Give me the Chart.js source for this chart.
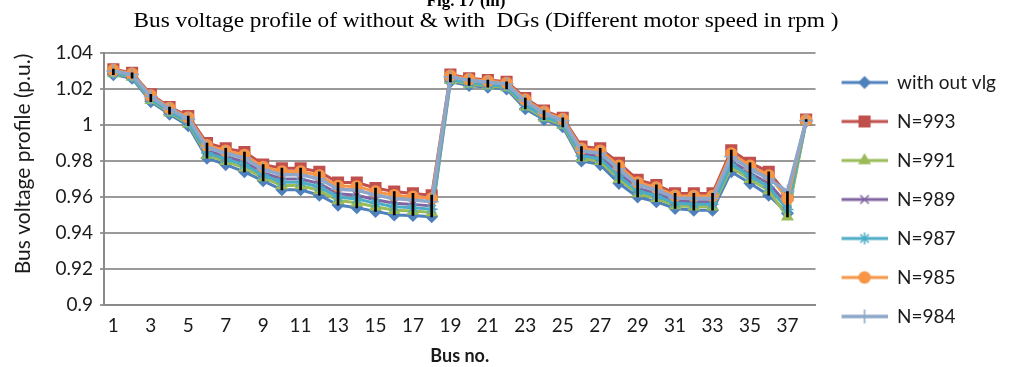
<!DOCTYPE html>
<html>
<head>
<meta charset="utf-8">
<script src="https://cdn.jsdelivr.net/npm/chart.js@4/dist/chart.umd.min.js"></script>
<style>
  html, body { margin: 0; padding: 0; background: #ffffff; }
  #wrap { width: 1015px; height: 367px; }
</style>
</head>
<body>
<div id="wrap"><canvas id="chart" width="1015" height="367"></canvas></div>
<script>
// Bus numbers 1..38
const buses = ['1','2','3','4','5','6','7','8','9','10','11','12','13','14','15','16','17','18','19',
               '20','21','22','23','24','25','26','27','28','29','30','31','32','33','34','35','36','37','38'];

// Bus voltages (p.u.) for each case
const withoutVlg = [1.028,1.026,1.013,1.006,0.9996,0.9816,0.978,0.974,0.969,0.964,0.964,0.961,0.9555,0.954,0.952,0.950,0.9497,0.949,
                    1.024,1.022,1.021,1.020,1.009,1.003,0.999,0.980,0.978,0.9676,0.960,0.9574,0.9536,0.9527,0.9527,0.974,0.9676,0.961,0.951,1.002];
const n993 = [1.031,1.029,1.017,1.010,1.005,0.990,0.987,0.985,0.978,0.976,0.976,0.974,0.968,0.968,0.965,0.963,0.962,0.961,
              1.028,1.026,1.025,1.024,1.015,1.008,1.004,0.988,0.987,0.979,0.9695,0.9667,0.962,0.962,0.962,0.986,0.979,0.974,0.961,1.003];
const n991 = [1.0286,1.0266,1.0138,1.0068,1.0007,0.9833,0.9798,0.9762,0.9708,0.9664,0.9664,0.9636,0.958,0.9568,0.9546,0.9526,0.9522,0.9514,
              1.0248,1.0228,1.0218,1.0208,1.0102,1.004,1.000,0.9816,0.9798,0.9699,0.9619,0.9593,0.9553,0.9546,0.9546,0.9764,0.9699,0.9636,0.949,1.002];
const n989 = [1.0295,1.0275,1.015,1.008,1.0023,0.9858,0.9825,0.9795,0.9735,0.970,0.970,0.9675,0.9618,0.961,0.9585,0.9565,0.9559,0.955,
              1.026,1.024,1.023,1.022,1.012,1.0055,1.0015,0.984,0.9825,0.9733,0.9648,0.9621,0.9578,0.9574,0.9574,0.980,0.9733,0.9675,0.956,1.0023];
const n987 = [1.029,1.027,1.0144,1.0074,1.0015,0.9845,0.9812,0.9779,0.9722,0.9682,0.9682,0.9656,0.9599,0.9589,0.9566,0.9546,0.954,0.9532,
              1.0254,1.0234,1.0224,1.0214,1.0111,1.0048,1.0008,0.9828,0.9812,0.9716,0.9633,0.9607,0.9565,0.956,0.956,0.9782,0.9716,0.9656,0.953,1.0022];
const n985 = [1.0305,1.0285,1.0164,1.0094,1.0042,0.9887,0.9857,0.9834,0.9767,0.9742,0.9742,0.972,0.9661,0.9659,0.963,0.961,0.9602,0.9592,
              1.0274,1.0254,1.0244,1.0234,1.0141,1.0073,1.0033,0.9868,0.9857,0.9773,0.9681,0.9653,0.9607,0.9606,0.9606,0.9842,0.9773,0.972,0.959,1.0027];
const n984 = [1.030,1.028,1.0158,1.0088,1.0034,0.9875,0.9843,0.9817,0.9753,0.9724,0.9724,0.9701,0.9643,0.9638,0.9611,0.9591,0.9583,0.9574,
              1.0268,1.0248,1.0238,1.0228,1.0132,1.0065,1.0025,0.9856,0.9843,0.9756,0.9667,0.9639,0.9595,0.9592,0.9592,0.9824,0.9756,0.9701,0.963,1.0025];

const seriesNames = ['with out vlg','N=993','N=991','N=989','N=987','N=985','N=984'];
const yTickLabels = ['0.9','0.92','0.94','0.96','0.98','1','1.02','1.04'];

const figLabel = 'Fig. 17 (iii)';
const chartTitle = 'Bus voltage profile of without & with  DGs (Different motor speed in rpm )';
const yTitle = 'Bus voltage profile (p.u.)';
const xTitle = 'Bus no.';

// line styling per case: colour, marker, marker radius
const styles = [
  { color: '#4F81BD', marker: 'rectRot',  r: 5.5, width: 3 },
  { color: '#C0504D', marker: 'rect',     r: 7.5, width: 3 },
  { color: '#9BBB59', marker: 'triangle', r: 6,   width: 3 },
  { color: '#8064A2', marker: 'crossRot', r: 6,   width: 3 },
  { color: '#4BACC6', marker: 'star',     r: 6,   width: 3 },
  { color: '#F79646', marker: 'circle',   r: 5.5, width: 3 },
  { color: '#8DA6CA', marker: 'cross',    r: 7,   width: 3.5 }
];
const seriesData = [withoutVlg, n993, n991, n989, n987, n985, n984];

// high-low lines: span of all cases at each bus
const highLow = buses.map((_, i) => {
  const vals = seriesData.map(s => s[i]);
  return [Math.min(...vals), Math.max(...vals)];
});

// legend icons: a line segment with the marker in its middle (small blank lead-in on the left)
const ICON_W = 52, ICON_LEAD = 6;
function legendIcon(st) {
  const c = document.createElement('canvas');
  c.width = ICON_W; c.height = 18;
  const g = c.getContext('2d');
  g.strokeStyle = st.color; g.lineWidth = st.width;
  g.beginPath(); g.moveTo(ICON_LEAD, 9); g.lineTo(ICON_W, 9); g.stroke();
  g.fillStyle = st.color; g.strokeStyle = st.color; g.lineWidth = 1.5;
  const cx = ICON_LEAD + (ICON_W - ICON_LEAD) / 2;
  Chart.helpers.drawPoint(g, { pointStyle: st.marker, radius: st.r, rotation: 0, borderWidth: 1.5 }, cx, 9);
  return c;
}
const legendIcons = styles.map(legendIcon);

const datasets = seriesNames.map((name, i) => ({
  type: 'line',
  label: name,
  data: seriesData[i],
  borderColor: styles[i].color,
  backgroundColor: styles[i].color,
  borderWidth: styles[i].width,
  pointStyle: styles[i].marker,
  pointRadius: styles[i].r,
  pointBorderWidth: 1.5,
  pointBorderColor: styles[i].color,
  pointBackgroundColor: styles[i].color,
  tension: 0,
  order: seriesNames.length - i
}));
datasets.push({
  type: 'bar',
  label: 'high-low',
  data: highLow,
  backgroundColor: '#000000',
  borderWidth: 0,
  barThickness: 2,
  order: 0
});

// chart captions drawn on the canvas
const captions = {
  id: 'captions',
  afterDraw(chart) {
    const ctx = chart.ctx;
    ctx.save();
    ctx.fillStyle = '#000';
    ctx.textAlign = 'center';
    ctx.textBaseline = 'alphabetic';
    ctx.font = 'bold 17px "Liberation Serif"';
    ctx.fillText(figLabel, 466, 6);

    ctx.font = '20px "Liberation Serif"';
    const w = ctx.measureText(chartTitle).width;
    ctx.save();
    ctx.translate(486, 27);
    ctx.scale(705 / w, 1);
    ctx.fillText(chartTitle, 0, 0);
    ctx.restore();

    ctx.fillStyle = '#1a1a1a';
    ctx.font = '21px Lato';
    ctx.translate(23, 164);
    ctx.rotate(-Math.PI / 2);
    ctx.textBaseline = 'middle';
    ctx.fillText(yTitle, 0, 0);
    ctx.restore();
  }
};

new Chart(document.getElementById('chart'), {
  data: { labels: buses, datasets },
  plugins: [captions],
  options: {
    responsive: false,
    animation: false,
    devicePixelRatio: 1,
    layout: { padding: { top: 53, left: 0, right: 9, bottom: 0 } },
    plugins: {
      title: { display: false },
      tooltip: { enabled: false },
      legend: {
        position: 'right',
        align: 'start',
        labels: {
          usePointStyle: true,
          pointStyleWidth: ICON_W,
          boxHeight: 18,
          padding: 20,
          color: '#1a1a1a',
          font: { family: 'Lato', size: 19 },
          generateLabels(chart) {
            const items = Chart.defaults.plugins.legend.labels.generateLabels(chart);
            return items
              .filter(it => it.datasetIndex < seriesNames.length)
              .map(it => Object.assign(it, { pointStyle: legendIcons[it.datasetIndex] }));
          },
          sort: (a, b) => a.datasetIndex - b.datasetIndex
        }
      }
    },
    scales: {
      x: {
        type: 'category',
        offset: true,
        grid: { display: false, drawTicks: false },
        border: { display: true, color: '#8a8a8a', width: 2 },
        ticks: {
          autoSkip: false,
          maxRotation: 0,
          padding: 9,
          color: '#1a1a1a',
          font: { family: 'Lato', size: 19 },
          callback: (v, i) => (i % 2 === 0 ? buses[i] : '')
        },
        title: {
          display: true,
          text: xTitle,
          color: '#1a1a1a',
          font: { family: 'Lato', size: 18, weight: 'bold' },
          padding: { top: 0, bottom: 0 }
        },
        afterFit(scale) { scale.height = 62; }
      },
      y: {
        min: 0.9,
        max: 1.04,
        grid: { color: '#9a9a9a', lineWidth: 2, tickLength: 4, drawTicks: true },
        border: { display: true, color: '#8a8a8a', width: 2 },
        ticks: {
          stepSize: 0.02,
          padding: 7,
          color: '#1a1a1a',
          font: { family: 'Lato', size: 19 },
          callback: (v) => {
            const idx = Math.round((v - 0.9) / 0.02);
            return yTickLabels[idx];
          }
        },
        afterFit(scale) { scale.width = 104; }
      }
    }
  }
});
</script>
</body>
</html>
